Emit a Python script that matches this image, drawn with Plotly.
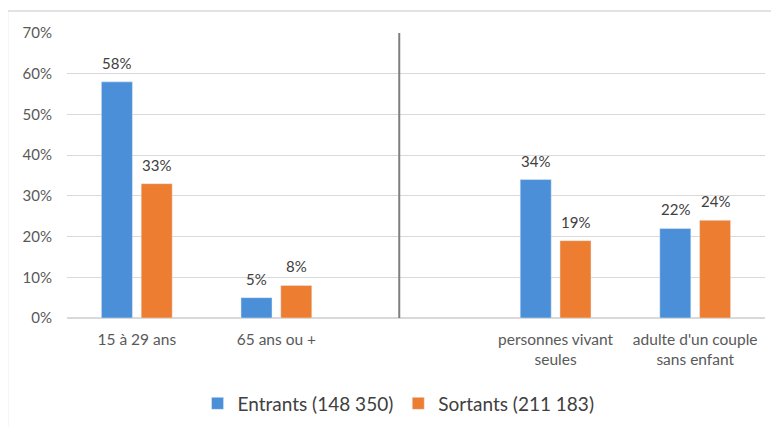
import plotly.graph_objects as go

categories = ["15 à 29 ans", "65 ans ou +", " ", "personnes vivant<br>seules", "adulte d'un couple<br>sans enfant"]
entrants = [58, 5, None, 34, 22]
sortants = [33, 8, None, 19, 24]
series_names = ["Entrants (148 350)", "Sortants (211 183)"]
tick_vals = [0, 10, 20, 30, 40, 50, 60, 70]
tick_text = ["0%", "10%", "20%", "30%", "40%", "50%", "60%", "70%"]

blue = "#4a8fd8"
orange = "#ed7d31"
font_family = "Lato, Open Sans, sans-serif"

fig = go.Figure()
for name, vals, col in [(series_names[0], entrants, blue), (series_names[1], sortants, orange)]:
    fig.add_trace(go.Bar(x=categories, y=vals, name=name, marker_color=col))

# value labels placed through the axes
annotations = []
for vals, shift in [(entrants, -20), (sortants, 20)]:
    for c, v in zip(categories, vals):
        if v is None:
            continue
        annotations.append(dict(x=c, y=v, xref="x", yref="y", text=f"{v}%", showarrow=False,
                                xshift=shift, yshift=8, yanchor="bottom",
                                font=dict(size=15, color="#404040", family=font_family)))

# page body has an 8px margin; compensate so the plot area lands where the reference has it
W, H = 779, 427
off = 8
pw, ph = 698, 285
l, t = 67 - off, 33 - off
r, b = W - l - pw, H - t - ph

fig.update_layout(
    width=W, height=H,
    margin=dict(l=l, r=r, t=t, b=b, autoexpand=False),
    paper_bgcolor="white", plot_bgcolor="white",
    barmode="group", bargap=0.43, bargroupgap=0.22,
    font=dict(family=font_family, color="#595959"),
    showlegend=True,
    legend=dict(orientation="h", x=0.475, xanchor="center", y=-0.3, yanchor="middle",
                font=dict(size=19, color="#404040"), itemwidth=30, traceorder="normal"),
    xaxis=dict(showgrid=False, showline=False, ticks="", tickfont=dict(size=15.5, color="#595959"),
               ticklabelstandoff=10, fixedrange=True),
    yaxis=dict(range=[0, 70], tickvals=tick_vals, ticktext=tick_text, showgrid=True,
               gridcolor="#d9d9d9", gridwidth=1, zeroline=True, zerolinecolor="#d9d9d9",
               tickfont=dict(size=15, color="#595959"), ticks="", ticklabelstandoff=14),
    annotations=annotations,
    shapes=[
        dict(type="line", xref="x", yref="y", x0=1.88, x1=1.88, y0=0, y1=70,
             line=dict(color="#7f7f7f", width=2)),
        dict(type="line", xref="paper", yref="paper",
             x0=(7.5 - off - l) / pw, x1=(7.5 - off - l) / pw, y0=1 + (t - (11 - off)) / ph, y1=-0.5,
             line=dict(color="#d9d9d9", width=1.5)),
        dict(type="line", xref="paper", yref="paper",
             x0=(7.5 - off - l) / pw, x1=1.1, y0=1 + (t - (11 - off)) / ph, y1=1 + (t - (11 - off)) / ph,
             line=dict(color="#d9d9d9", width=1.5)),
    ],
)

fig.write_html("out.html")
